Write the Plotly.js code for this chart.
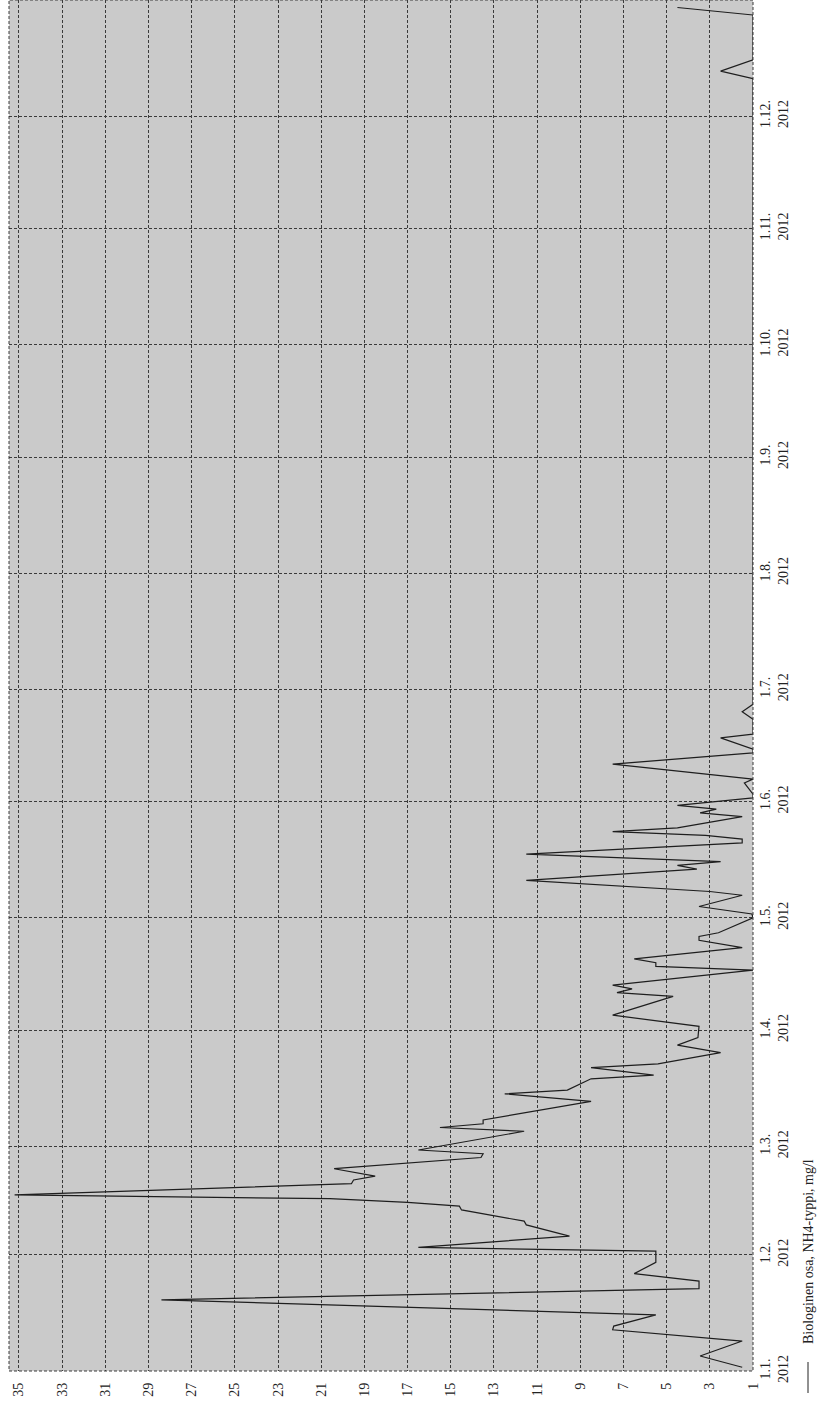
<!DOCTYPE html>
<html>
<head>
<meta charset="utf-8">
<script src="https://cdn.plot.ly/plotly-3.0.1.min.js"></script>
<style>html,body{margin:0;padding:0;background:#fff;}#chart{width:821px;height:1408px;}</style>
</head>
<body>
<div id="chart"></div>
<script>
// Measurement dates (2012)
var dates = [
  '2012-01-02','2012-01-05','2012-01-09','2012-01-12','2012-01-13','2012-01-16','2012-01-20',
  '2012-01-23','2012-01-25','2012-01-27','2012-01-30','2012-02-02',
  '2012-02-03','2012-02-06','2012-02-09','2012-02-10','2012-02-13','2012-02-14','2012-02-15',
  '2012-02-16','2012-02-17','2012-02-20','2012-02-21','2012-02-22','2012-02-24','2012-02-27',
  '2012-02-28','2012-02-29',
  '2012-03-05','2012-03-06','2012-03-07','2012-03-08','2012-03-13','2012-03-15','2012-03-16',
  '2012-03-19','2012-03-20','2012-03-22','2012-03-23','2012-03-26','2012-03-28','2012-03-30',
  '2012-04-02','2012-04-05','2012-04-10','2012-04-11','2012-04-12','2012-04-13','2012-04-17',
  '2012-04-18','2012-04-19','2012-04-20','2012-04-23','2012-04-25','2012-04-26','2012-04-27',
  '2012-05-01','2012-05-02','2012-05-04','2012-05-07','2012-05-08','2012-05-11','2012-05-14',
  '2012-05-15','2012-05-16','2012-05-18','2012-05-21','2012-05-22','2012-05-23','2012-05-24',
  '2012-05-25','2012-05-28','2012-05-29','2012-05-30','2012-05-31','2012-06-01','2012-06-02',
  '2012-06-03','2012-06-06','2012-06-07','2012-06-11','2012-06-14','2012-06-15','2012-06-18',
  '2012-06-19','2012-06-23','2012-06-25','2012-06-27',
  '2012-12-11','2012-12-13','2012-12-16','2012-12-28','2012-12-30'
];
// Biologinen osa, NH4-typpi, mg/l
var nh4 = [
  1.5, 3.45, 1.5, 7.5, 7.45, 5.5, 28.4,
  3.5, 3.5, 6.5, 5.5, 5.5,
  16.5, 9.5, 11.5, 11.6, 14.5, 14.6, 17.0,
  20.6, 35.2, 19.6, 19.5, 18.5, 20.4, 13.6,
  13.5, 16.5,
  11.6, 15.5, 13.5, 13.5, 8.5, 12.5, 9.6,
  8.5, 5.6, 8.5, 5.4, 2.5, 4.5, 3.55,
  3.5, 7.5, 4.7, 7.3, 6.6, 7.5, 1.0,
  5.5, 5.5, 6.5, 1.5, 3.5, 3.5, 2.6,
  1.0, 1.05, 3.5, 1.5, 3.0, 11.5, 3.6,
  4.5, 2.5, 11.5, 1.5, 1.5, 3.2, 7.5,
  4.5, 1.5, 3.45, 2.7, 4.5, 2.7, 1.0,
  1.0, 1.4, 1.0, 7.5, 1.0, 1.0, 2.5,
  1.0, 1.0, 1.5, 1.0,
  1.0, 2.5, 1.0, 1.0, 4.5
];
var valueTicks = [1,3,5,7,9,11,13,15,17,19,21,23,25,27,29,31,33,35];
var monthTicks = ['2012-01-01','2012-02-01','2012-03-01','2012-04-01','2012-05-01','2012-06-01',
                  '2012-07-01','2012-08-01','2012-09-01','2012-10-01','2012-11-01','2012-12-01'];
var monthLabels = ['1.1.<br>2012','1.2.<br>2012','1.3.<br>2012','1.4.<br>2012','1.5.<br>2012','1.6.<br>2012',
                   '1.7.<br>2012','1.8.<br>2012','1.9.<br>2012','1.10.<br>2012','1.11.<br>2012','1.12.<br>2012'];
var seriesName = 'Biologinen osa, NH4-typpi, mg/l';

var W = 821, H = 1408, ml = 9, mr = 68, mt = 0, mb = 37;
var pw = W - ml - mr, ph = H - mt - mb;
function px2x(p){ return (p - ml) / pw; }
function py2y(p){ return (H - mb - p) / ph; }

var font = {family: '"Liberation Serif", "DejaVu Serif", serif', size: 14, color: '#222'};

var trace = {
  x: nh4, y: dates, type: 'scatter', mode: 'lines', name: seriesName,
  line: {color: '#1e1e1e', width: 1.2}, showlegend: false, hoverinfo: 'skip'
};

var layout = {
  width: W, height: H,
  margin: {l: ml, r: mr, t: mt, b: mb, pad: 0},
  paper_bgcolor: '#ffffff', plot_bgcolor: '#cacaca',
  font: font,
  showlegend: false,
  xaxis: {
    range: [35.46, 1], tickmode: 'array', tickvals: valueTicks,
    ticktext: valueTicks.map(String), tickangle: -90, ticks: '',
    ticklabelstandoff: 8,
    showgrid: true, gridcolor: '#3a3a3a', gridwidth: 1, griddash: '3px,2px',
    zeroline: false, showline: false, tickfont: font, fixedrange: true
  },
  yaxis: {
    type: 'date', range: ['2012-01-01', '2013-01-01'], side: 'right',
    tickmode: 'array', tickvals: monthTicks, ticktext: monthLabels,
    tickangle: -90, ticks: '', ticklabelstandoff: 2,
    showgrid: true, gridcolor: '#3a3a3a', gridwidth: 1, griddash: '3px,2px',
    zeroline: false, showline: false, tickfont: font, fixedrange: true
  },
  shapes: [
    {type: 'rect', xref: 'paper', yref: 'paper', x0: 0, x1: 1, y0: 0, y1: 1,
     line: {color: '#3a3a3a', width: 1, dash: '3px,2px'}},
    {type: 'line', xref: 'paper', yref: 'paper', x0: px2x(808), x1: px2x(808),
     y0: py2y(1393), y1: py2y(1362), line: {color: '#222', width: 1}}
  ],
  annotations: [
    {xref: 'paper', yref: 'paper', x: px2x(808), y: py2y(1252), text: seriesName,
     textangle: -90, showarrow: false, xanchor: 'center', yanchor: 'middle', font: font}
  ]
};

Plotly.newPlot('chart', [trace], layout, {staticPlot: true, displayModeBar: false});
</script>
</body>
</html>
